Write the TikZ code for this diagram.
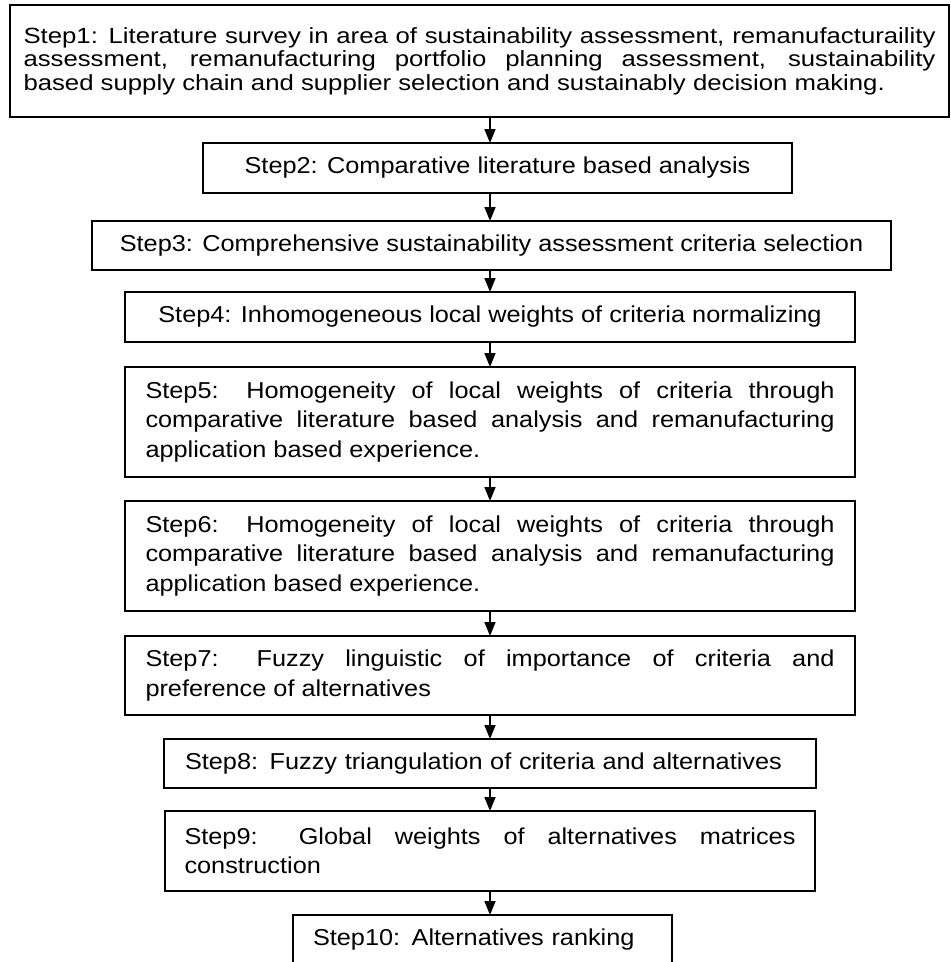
\documentclass[tikz,border=0pt]{standalone}
\usepackage{fontspec}
\newfontfamily\topfont[FakeStretch=1.17]{Liberation Sans}
\newfontfamily\stepfont[FakeStretch=1.1]{Liberation Sans}
\usetikzlibrary{positioning, arrows.meta}
\hyphenpenalty=10000
\exhyphenpenalty=10000

\begin{document}
\begin{tikzpicture}[
    x=1pt, y=1pt,
    stepbox/.style={
        draw=black, line width=1.1pt, inner xsep=0pt, inner ysep=0pt,
        outer sep=0pt, font=\stepfont\fontsize{23}{29.5}\selectfont,
        align=justify
      },
    flow/.style={-{Triangle[width=11pt, length=14pt]}, line width=1.6pt}
  ]
  \useasboundingbox (0,0) rectangle (951,-962);
  \clip (0,0) rectangle (951,-962);

  \node[stepbox, anchor=north, minimum width=939pt, minimum height=112pt,
    text width=912pt, font=\topfont\fontsize{22}{23.5}\selectfont]
  (s1) at (479.5,-5)
  {Step1: Literature survey in area of sustainability assessment, remanufacturaility\linebreak
    assessment, remanufacturing portfolio planning assessment, sustainability\linebreak
    based supply chain and supplier selection and sustainably decision making.\par
    \vspace{12pt}};

  \node[stepbox, below=26pt of s1, xshift=18pt, minimum width=589pt,
    minimum height=50pt, align=center]
  (s2)
  {Step2: Comparative literature based analysis};

  \node[stepbox, below=28pt of s2, xshift=-6pt, minimum width=799pt,
    minimum height=49pt, align=center]
  (s3)
  {Step3: Comprehensive sustainability assessment criteria selection};

  \node[stepbox, below=22pt of s3, xshift=-1.5pt, minimum width=730pt,
    minimum height=50pt, align=center]
  (s4)
  {Step4: Inhomogeneous local weights of criteria normalizing};

  \node[stepbox, below=25pt of s4, minimum width=730pt, minimum height=110pt,
    text width=689pt]
  (s5)
  {Step5: Homogeneity of local weights of criteria through\linebreak
    comparative literature based analysis and remanufacturing\linebreak
    application based experience.};

  \node[stepbox, below=24pt of s5, minimum width=730pt, minimum height=110pt,
    text width=689pt]
  (s6)
  {Step6: Homogeneity of local weights of criteria through\linebreak
    comparative literature based analysis and remanufacturing\linebreak
    application based experience.};

  \node[stepbox, below=25pt of s6, minimum width=730pt, minimum height=79pt,
    text width=689pt]
  (s7)
  {Step7: Fuzzy linguistic of importance of criteria and\linebreak
    preference of alternatives};

  \node[stepbox, below=24pt of s7, minimum width=652pt, minimum height=49pt,
    text width=610pt, align=left]
  (s8)
  {Step8: Fuzzy triangulation of criteria and alternatives};

  \node[stepbox, below=23pt of s8, minimum width=650pt, minimum height=80pt,
    text width=611pt]
  (s9)
  {Step9: Global weights of alternatives matrices\linebreak
    construction};

  \node[stepbox, below=24pt of s9, xshift=-7.5pt, minimum width=379pt,
    minimum height=50pt, text width=339pt, align=left]
  (s10)
  {Step10: Alternatives ranking};

  % connectors down the middle
  \foreach \a/\b in {s1/s2, s2/s3, s3/s4, s4/s5, s5/s6, s6/s7, s7/s8, s8/s9, s9/s10} {
      \draw[flow] (\a.south -| s5) -- (\b.north -| s5);
    }
\end{tikzpicture}
\end{document}
